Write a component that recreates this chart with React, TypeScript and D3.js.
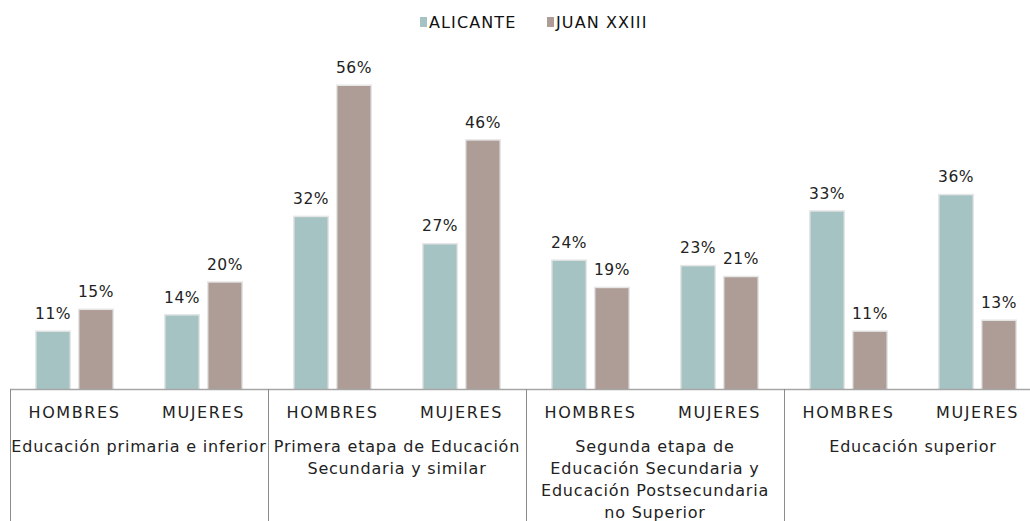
import React, { useEffect, useRef } from "react";
import * as d3 from "d3";

const categories = ["HOMBRES", "MUJERES", "HOMBRES", "MUJERES", "HOMBRES", "MUJERES", "HOMBRES", "MUJERES"];
const groups = [
  ["Educación primaria e inferior"],
  ["Primera etapa de Educación", "Secundaria y similar"],
  ["Segunda etapa de", "Educación Secundaria y", "Educación Postsecundaria", "no Superior"],
  ["Educación superior"],
];
const alicante = [11, 14, 32, 27, 24, 23, 33, 36];
const juan = [15, 20, 56, 46, 19, 21, 11, 13];
const seriesNames = ["ALICANTE", "JUAN XXIII"];
const colors = ["#a6c3c3", "#ae9d96"];

const W = 1030, H = 521;
const FONT = "'DejaVu Sans', sans-serif";
const BASE = 389;

const App = () => {
  const ref = useRef<SVGSVGElement>(null);

  useEffect(() => {
    const svg = d3.select(ref.current);
    svg.selectAll("*").remove();

    const x = d3.scaleBand<number>().domain(d3.range(categories.length)).range([10, 1042]);
    const inner = d3.scaleBand<number>().domain([0, 1]).range([x.bandwidth() / 2 - 38, x.bandwidth() / 2 + 38]).paddingInner(0.23);
    // zero sits a few px under the drawn axis line
    const y = d3.scaleLinear().domain([0, 56]).range([392, 86]);

    const data = categories.map((c, i) => [alicante[i], juan[i]]);

    const cat = svg.append("g").selectAll(".cat").data(data).enter().append("g")
      .attr("transform", (d, i) => `translate(${x(i)},0)`);

    cat.selectAll("rect.shadow").data(d => d).enter().append("rect")
      .attr("x", (d, j) => inner(j)! - 1.5)
      .attr("y", d => y(d) - 1.5)
      .attr("width", inner.bandwidth() + 3)
      .attr("height", d => BASE - y(d) + 1.5)
      .attr("fill", "#e6e6e6");

    cat.selectAll("rect.bar").data(d => d).enter().append("rect")
      .attr("x", (d, j) => inner(j)!)
      .attr("y", d => y(d))
      .attr("width", inner.bandwidth())
      .attr("height", d => BASE - y(d))
      .attr("fill", (d, j) => colors[j]);

    cat.selectAll("text.val").data(d => d).enter().append("text")
      .attr("x", (d, j) => inner(j)! + inner.bandwidth() / 2)
      .attr("y", d => y(d) - 13)
      .attr("text-anchor", "middle")
      .style("font-family", FONT)
      .style("font-size", "15.5px")
      .style("letter-spacing", "0.5px")
      .style("fill", "#222")
      .text(d => `${d}%`);

    // axis
    svg.append("line").attr("x1", 10).attr("x2", W).attr("y1", BASE + 0.5).attr("y2", BASE + 0.5)
      .attr("stroke", "#a6a6a6").attr("stroke-width", 1.5);
    [0, 2, 4, 6].forEach(i => {
      const xx = x(i)!;
      svg.append("line").attr("x1", xx + 0.5).attr("x2", xx + 0.5).attr("y1", BASE).attr("y2", H)
        .attr("stroke", "#8c8c8c").attr("stroke-width", 1);
    });

    svg.selectAll("text.cat").data(categories).enter().append("text")
      .attr("x", (d, i) => x(i)! + x.bandwidth() / 2)
      .attr("y", 418)
      .attr("text-anchor", "middle")
      .style("font-family", FONT)
      .style("font-size", "16px")
      .style("letter-spacing", "1.6px")
      .style("fill", "#222")
      .text(d => d);

    groups.forEach((lines, gi) => {
      const cx = x(gi * 2)! + x.bandwidth();
      const t = svg.append("text").attr("text-anchor", "middle")
        .style("font-family", FONT).style("font-size", "16px")
        .style("letter-spacing", "0.8px").style("fill", "#222");
      lines.forEach((l, li) => {
        t.append("tspan").attr("x", cx).attr("y", 452 + li * 22).text(l);
      });
    });

    // legend
    const leg = svg.append("g").attr("transform", "translate(420,0)");
    const offsets = [0, 127];
    seriesNames.forEach((s, i) => {
      leg.append("rect").attr("x", offsets[i]).attr("y", 17).attr("width", 7).attr("height", 10).attr("fill", colors[i]);
      leg.append("text").attr("x", offsets[i] + 9).attr("y", 28)
        .style("font-family", FONT)
        .style("font-size", "16px").style("letter-spacing", "1.1px")
        .style("fill", "#111").text(s);
    });
  }, []);

  return (
    <svg ref={ref} width={W} height={H} style={{ position: "absolute", left: 0, top: 0, background: "#fff" }} />
  );
};

export default App;
